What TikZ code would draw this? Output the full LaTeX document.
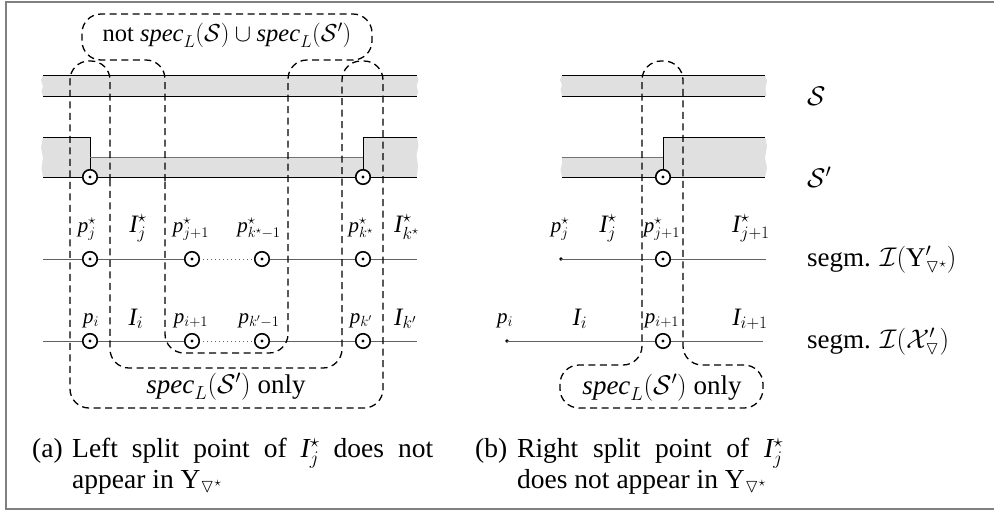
\RequirePackage{fix-cm}
\documentclass[tikz,border=0pt]{standalone}
\usepackage{amssymb}
\usepackage{fontspec}
\setmainfont{Liberation Serif}
\definecolor{bandgray}{gray}{0.88}
\definecolor{seggray}{gray}{0.38}
\definecolor{framegray}{gray}{0.5}
\tikzset{
  bline/.style={line width=0.9pt, draw=black},
  gline/.style={line width=0.9pt, draw=black!55},
  seg/.style={line width=0.9pt, draw=seggray},
  dotline/.style={line width=0.8pt, draw=seggray, dash pattern=on 0.8pt off 3.2pt},
  odot/.style={circle, draw, fill=white, line width=1.6pt, minimum size=14.5pt, inner sep=0pt},
  sdot/.style={circle, fill=black, minimum size=3.6pt, inner sep=0pt},
  dsh/.style={line width=1.3pt, dash pattern=on 7pt off 4.5pt, rounded corners=19pt},
  txt/.style={inner sep=0pt, anchor=base, font=\fontsize{27}{31}\selectfont},
  ntxt/.style={inner sep=0pt, anchor=base, font=\fontsize{24.5}{29}\selectfont},
  ilab/.style={inner sep=0pt, anchor=base, font=\fontsize{25}{29}\selectfont},
  plab/.style={inner sep=0pt, anchor=base, font=\fontsize{21}{25}\selectfont},
  captxt/.style={inner sep=0pt, anchor=base west, font=\fontsize{27.5}{31}\selectfont},
}
\begin{document}
\begin{tikzpicture}[x=1pt,y=-1pt]
\useasboundingbox (0,0) rectangle (994,512);
% frame
\draw[framegray, line width=1.6pt] (994,2) -- (6,2) -- (6,509) -- (994,509);

% ===== panel (a) bands =====
\fill[bandgray] (43,75) -- (417,75) -- (418.5,80) -- (416.5,86) -- (418,91) -- (417,96) -- (43,96) -- (41.5,91) -- (43,86) -- (41,80) -- cycle;
\draw[bline] (43,75) -- (417,75);
\draw[bline] (43,96) -- (417,96);
\fill[bandgray] (43,137) -- (90,137) -- (90,157) -- (363,157) -- (363,137) -- (417,137) -- (418.5,145) -- (416.5,155) -- (418,166) -- (417,177) -- (43,177) -- (41.5,168) -- (43,158) -- (41,147) -- cycle;
\draw[bline] (43,137) -- (90,137) -- (90,177);
\draw[gline] (90,157) -- (363,157);
\draw[bline] (363,177) -- (363,137) -- (417,137);
\draw[bline] (43,177) -- (417,177);

% ===== panel (b) bands =====
\fill[bandgray] (562,75) -- (765,75) -- (767,81) -- (765.5,88) -- (766.5,96) -- (562,96) -- (560.5,90) -- (562,85) -- (560,80) -- cycle;
\draw[bline] (562,75) -- (765,75);
\draw[bline] (562,96) -- (765,96);
\fill[bandgray] (562,157) -- (663,157) -- (663,137) -- (765,137) -- (767,146) -- (765,158) -- (767,168) -- (765,177) -- (562,177) -- (560.5,170) -- (562,163) -- cycle;
\draw[gline] (562,157) -- (663,157);
\draw[bline] (663,177) -- (663,137) -- (765,137);
\draw[bline] (562,177) -- (765,177);

% ===== segment lines =====
\coordinate (ya0) at (43,259);  \coordinate (ya9) at (417,259);
\coordinate (xa0) at (43,341);  \coordinate (xa9) at (417,341);
\draw[seg] (ya0) -- (ya9);
\draw[seg] (xa0) -- (xa9);
\node[sdot] (yb0) at (561,259) {};  \coordinate (yb9) at (766,259);
\node[sdot] (xb0) at (507,341) {};  \coordinate (xb9) at (763,341);
\draw[seg] (yb0.center) -- (yb9);
\draw[seg] (xb0.center) -- (xb9);

% ===== dashed regions =====
\draw[dsh] (110,200) -- (110,61) -- (70,61) -- (70,408) -- (383,408) -- (383,61) -- (342,61) -- (342,368) -- (110,368) -- cycle;
\draw[dsh] (165,200) -- (165,60) -- (82,60) -- (82,14) -- (372,14) -- (372,60) -- (288,60) -- (288,353) -- (165,353) -- cycle;
\draw[dsh] (642,200) -- (642,61) -- (683,61) -- (683,365) -- (763,365) -- (763,408) -- (560,408) -- (560,365) -- (642,365) -- cycle;

% ===== circles =====
\node[odot] (sa1) at (90,177) {};
\node[odot] (sa2) at (363,177) {};
\node[odot] (sb1) at (663,177) {};
\node[odot] (ya1) at (90,259) {};
\node[odot] (ya2) at (192,259) {};
\node[odot] (ya3) at (262,259) {};
\node[odot] (ya4) at (363,259) {};
\node[odot] (xa1) at (90,341) {};
\node[odot] (xa2) at (192,341) {};
\node[odot] (xa3) at (262,341) {};
\node[odot] (xa4) at (363,341) {};
\node[odot] (yb1) at (663,259) {};
\node[odot] (xb1) at (663,341) {};
\foreach \n in {sa1,sa2,sb1,ya1,ya2,ya3,ya4,xa1,xa2,xa3,xa4,yb1,xb1}
  \fill (\n.center) circle (1.6pt);
\fill[white] (ya2.east) rectangle ([yshift=-1pt]ya3.west);
\fill[white] (xa2.east) rectangle ([yshift=-1pt]xa3.west);
\draw[dotline] ([xshift=3pt]ya2.east) -- (ya3.west);
\draw[dotline] ([xshift=3pt]xa2.east) -- (xa3.west);

% ===== labels (a) =====
\node[plab] (lpj) at (87,232) {$\mathit{p}^\star_j$};
\node[ilab] (lIj) at (138,232) {$\mathit{I}^\star_j$};
\node[plab] (lpj1) at (191,232) {$\mathit{p}^\star_{j+1}$};
\node[plab] (lpkm) at (259,232) {$\mathit{p}^\star_{k^\star-1}$};
\node[plab] (lpk) at (361,232) {$\mathit{p}^\star_{k^\star}$};
\node[ilab, anchor=base west] (lIk) at (394,232) {$\mathit{I}^\star_{k^\star}$};
\node[plab] (lpi) at (91,323) {$\mathit{p}_i$};
\node[ilab] (lIi) at (136,325) {$\mathit{I}_i$};
\node[plab] (lpi1) at (191,323) {$\mathit{p}_{i+1}$};
\node[plab] (lpkm2) at (259,323) {$\mathit{p}_{k'-1}$};
\node[plab] (lpk2) at (361,323) {$\mathit{p}_{k'}$};
\node[ilab, anchor=base west] (lIk2) at (394,325) {$\mathit{I}_{k'}$};

% ===== labels (b) =====
\node[plab] (mpj) at (560,232) {$\mathit{p}^\star_j$};
\node[ilab] (mIj) at (608,232) {$\mathit{I}^\star_j$};
\node[plab] (mpj1) at (662,232) {$\mathit{p}^\star_{j+1}$};
\node[ilab] (mIj1) at (751,232) {$\mathit{I}^\star_{j+1}$};
\node[plab] (mpi) at (505,323) {$\mathit{p}_i$};
\node[ilab] (mIi) at (580,325) {$\mathit{I}_i$};
\node[plab] (mpi1) at (662,323) {$\mathit{p}_{i+1}$};
\node[ilab] (mIi1) at (750,325) {$\mathit{I}_{i+1}$};

% ===== region texts =====
\node[ntxt] (tnot) at (227,41) {not $\mathit{spec}_L(\mathcal{S})\cup\mathit{spec}_L(\mathcal{S}')$};
\node[txt] (tonlya) at (226,393) {$\mathit{spec}_L(\mathcal{S}')$ only};
\node[txt] (tonlyb) at (662,394) {$\mathit{spec}_L(\mathcal{S}')$ only};

% ===== right labels =====
\node[txt, anchor=base west] (rS) at (807,105) {$\mathcal{S}$};
\node[txt, anchor=base west] (rSp) at (807,187) {$\mathcal{S}'$};
\node[txt, anchor=base west] (rY) at (807,266) {segm. $\mathcal{I}(\mathrm{Y}'_{\triangledown^\star})$};
\node[txt, anchor=base west] (rX) at (807,348) {segm. $\mathcal{I}(\mathcal{X}'_{\triangledown})$};

% ===== captions =====
\node[captxt] (ca0) at (32,457) {(a)};
\node[captxt] (ca1) at (72,457) {\makebox[361pt][s]{Left split point of $\mathit{I}^\star_j$ does not}};
\node[captxt] (ca2) at (72,488) {appear in $\mathrm{Y}_{\triangledown^\star}$};
\node[captxt] (cb0) at (475,457) {(b)};
\node[captxt] (cb1) at (517,457) {\makebox[266pt][s]{Right split point of $\mathit{I}^\star_j$}};
\node[captxt] (cb2) at (517,488) {does not appear in $\mathrm{Y}_{\triangledown^\star}$};
\end{tikzpicture}
\end{document}
